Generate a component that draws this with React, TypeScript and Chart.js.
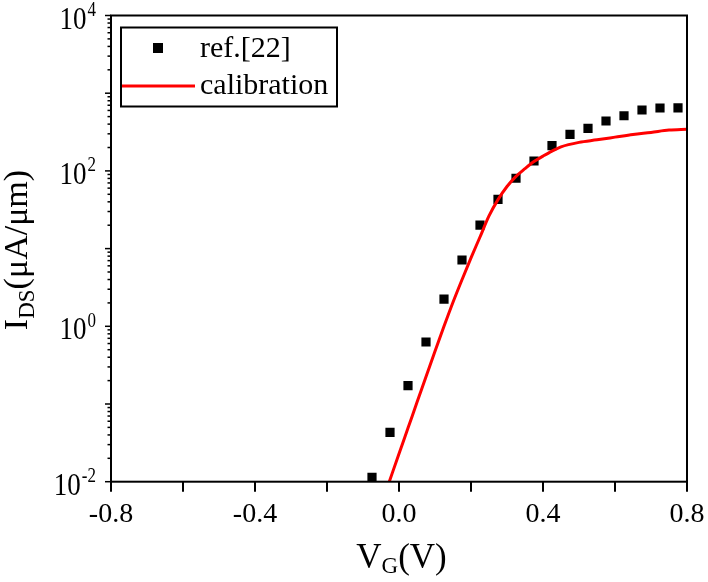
import React, { useEffect, useRef } from "react";
import { Chart, registerables } from "chart.js";

Chart.register(...registerables);

// Measured drain current of the reference device
const refVg = [-0.075, -0.025, 0.025, 0.075, 0.125, 0.175, 0.225, 0.275, 0.325, 0.375, 0.425, 0.475, 0.525, 0.575, 0.625, 0.675, 0.725, 0.775];
const refIds = [0.0114, 0.0432, 0.172, 0.628, 2.24, 7.13, 20.1, 43.0, 80.4, 134, 211, 296, 353, 439, 513, 608, 645, 648];

// Calibrated simulation curve
const calVg = [-0.027, 0, 0.025, 0.05, 0.075, 0.1, 0.125, 0.15, 0.175, 0.2, 0.225, 0.25, 0.275, 0.3, 0.325, 0.35, 0.375, 0.4, 0.425, 0.45, 0.5, 0.55, 0.6, 0.65, 0.7, 0.75, 0.8];
const calIds = [0.01, 0.0229, 0.049, 0.105, 0.224, 0.479, 1.0, 2.04, 3.98, 7.6, 14.1, 26.3, 42.7, 63, 85, 107, 132, 155, 180, 204, 233, 251, 272, 295, 313, 335, 343];

// Axis ticks
const xTicks = [-0.8, -0.6, -0.4, -0.2, 0, 0.2, 0.4, 0.6, 0.8];
const xLabels = ["-0.8", "", "-0.4", "", "0.0", "", "0.4", "", "0.8"];
const yDecades = [-2, -1, 0, 1, 2, 3, 4];
const yLabelExps = ["-2", "0", "2", "4"];

const legendNames = ["ref.[22]", "calibration"];

const SERIF = '"Liberation Serif", "Times New Roman", serif';

// draws text stretched vertically about its baseline
function tallText(ctx: CanvasRenderingContext2D, text: string, x: number, y: number, sy: number) {
  ctx.save();
  ctx.translate(x, y);
  ctx.scale(1, sy);
  ctx.fillText(text, 0, 0);
  ctx.restore();
}

const axesPlugin = {
  id: "deviceAxes",
  afterDraw(chart: any) {
    const { ctx, chartArea } = chart;
    const xs = chart.scales.x;
    const ys = chart.scales.y;
    const { left, right, top, bottom } = chartArea;
    ctx.save();
    ctx.strokeStyle = "#000";
    ctx.fillStyle = "#000";
    ctx.lineWidth = 2;
    ctx.strokeRect(left, top, right - left, bottom - top);

    // x ticks and labels
    ctx.font = `28px ${SERIF}`;
    ctx.textAlign = "center";
    ctx.textBaseline = "alphabetic";
    xTicks.forEach((v, i) => {
      const px = xs.getPixelForValue(v);
      ctx.beginPath();
      ctx.moveTo(px, bottom);
      ctx.lineTo(px, bottom + 10);
      ctx.stroke();
      if (xLabels[i]) ctx.fillText(xLabels[i], px, bottom + 40);
    });

    // y ticks (log, with minor ticks)
    ctx.lineWidth = 1.5;
    yDecades.forEach((d) => {
      const py = ys.getPixelForValue(Math.pow(10, d));
      ctx.beginPath();
      ctx.moveTo(left, py);
      ctx.lineTo(left - 6, py);
      ctx.stroke();
      if (d < 4) {
        for (let k = 2; k <= 9; k++) {
          const pm = ys.getPixelForValue(k * Math.pow(10, d));
          ctx.beginPath();
          ctx.moveTo(left, pm);
          ctx.lineTo(left - 3.5, pm);
          ctx.stroke();
        }
      }
    });

    // y labels 10^n
    ctx.textAlign = "left";
    yLabelExps.forEach((e) => {
      const py = ys.getPixelForValue(Math.pow(10, Number(e)));
      ctx.font = `27px ${SERIF}`;
      const w1 = ctx.measureText("10").width;
      ctx.font = `17px ${SERIF}`;
      const w2 = ctx.measureText(e).width;
      const x0 = 95 - w1 - w2;
      ctx.font = `27px ${SERIF}`;
      tallText(ctx, "10", x0, py + 13, 1.2);
      ctx.font = `17px ${SERIF}`;
      tallText(ctx, e, x0 + w1 + 1, py + 0.5, 1.2);
    });

    // x title V_G(V)
    ctx.font = `35px ${SERIF}`;
    const wV = ctx.measureText("V").width;
    ctx.font = `23px ${SERIF}`;
    const wG = ctx.measureText("G").width;
    ctx.font = `35px ${SERIF}`;
    const wP = ctx.measureText("(V)").width;
    const xStart = 401.5 - (wV + wG + wP) / 2;
    ctx.fillText("V", xStart, 568);
    ctx.font = `23px ${SERIF}`;
    ctx.fillText("G", xStart + wV, 573);
    ctx.font = `35px ${SERIF}`;
    ctx.fillText("(V)", xStart + wV + wG, 568);

    // y title I_DS(μA/μm)
    ctx.save();
    ctx.translate(27, 250);
    ctx.rotate(-Math.PI / 2);
    ctx.font = `34px ${SERIF}`;
    const wI = ctx.measureText("I").width;
    ctx.font = `23px ${SERIF}`;
    const wDS = ctx.measureText("DS").width;
    ctx.font = `34px ${SERIF}`;
    const wU = ctx.measureText("(μA/μm)").width;
    const s = -(wI + wDS + wU) / 2;
    ctx.fillText("I", s, 0);
    ctx.font = `23px ${SERIF}`;
    ctx.fillText("DS", s + wI, 7);
    ctx.font = `34px ${SERIF}`;
    ctx.fillText("(μA/μm)", s + wI + wDS, 0);
    ctx.restore();

    // legend
    ctx.lineWidth = 2;
    ctx.strokeRect(121, 27.5, 216, 79);
    ctx.fillRect(153, 43, 10, 10);
    ctx.strokeStyle = "#ff0000";
    ctx.lineWidth = 3;
    ctx.beginPath();
    ctx.moveTo(122, 86);
    ctx.lineTo(195, 86);
    ctx.stroke();
    ctx.font = `30px ${SERIF}`;
    ctx.textAlign = "left";
    ctx.textBaseline = "middle";
    ctx.fillText(legendNames[0], 200, 49);
    ctx.fillText(legendNames[1], 200, 86);
    ctx.restore();
  },
};

export default function App() {
  const canvasRef = useRef<HTMLCanvasElement | null>(null);

  useEffect(() => {
    if (!canvasRef.current) return;
    const chart = new Chart(canvasRef.current, {
      type: "scatter",
      data: {
        datasets: [
          {
            label: legendNames[1],
            data: calVg.map((v, i) => ({ x: v, y: calIds[i] })),
            showLine: true,
            borderColor: "#ff0000",
            borderWidth: 3,
            pointRadius: 0,
            cubicInterpolationMode: "monotone",
            order: 0,
          },
          {
            label: legendNames[0],
            data: refVg.map((v, i) => ({ x: v, y: refIds[i] })),
            showLine: false,
            pointStyle: "rect",
            pointRadius: 6.5,
            borderWidth: 0,
            backgroundColor: "#000",
            borderColor: "#000",
            order: 1,
          },
        ],
      },
      options: {
        animation: false,
        responsive: false,
        devicePixelRatio: 1,
        layout: { padding: { top: 15.5, right: 21, left: 0, bottom: 0 } },
        plugins: { legend: { display: false }, tooltip: { enabled: false } },
        scales: {
          x: {
            type: "linear",
            min: -0.8,
            max: 0.8,
            ticks: { display: false },
            grid: { display: false },
            border: { display: false },
            afterFit: (scale: any) => {
              scale.height = 582 - 481.7;
            },
          },
          y: {
            type: "logarithmic",
            min: 0.01,
            max: 10000,
            ticks: { display: false },
            grid: { display: false },
            border: { display: false },
            afterFit: (scale: any) => {
              scale.width = 111;
            },
          },
        },
      },
      plugins: [axesPlugin],
    });
    return () => chart.destroy();
  }, []);

  return (
    <div style={{ position: "fixed", left: 0, top: 0, width: 708, height: 582, background: "#fff" }}>
      <canvas ref={canvasRef} width={708} height={582} />
    </div>
  );
}
